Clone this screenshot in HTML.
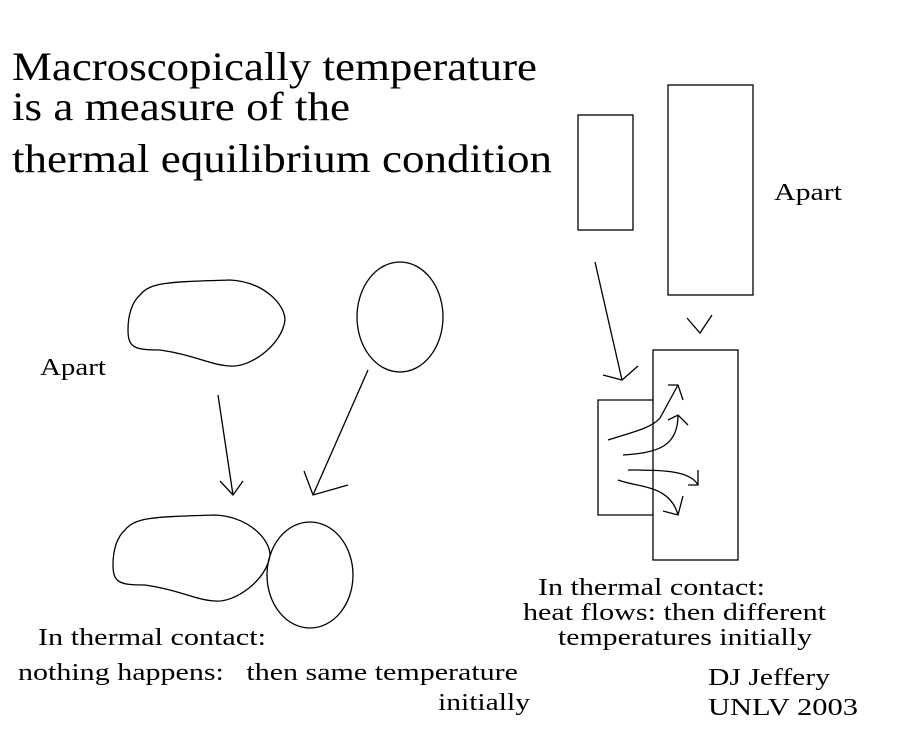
<!DOCTYPE html>
<html><head><style>html,body{margin:0;padding:0;background:#fff}svg{display:block}</style></head><body>
<svg width="922" height="733" viewBox="0 0 922 733" xmlns="http://www.w3.org/2000/svg" font-family="Liberation Serif, serif" fill="#000">
<g font-size="40">
<text x="12" y="80" textLength="525" lengthAdjust="spacingAndGlyphs">Macroscopically temperature</text>
<text x="12" y="120" textLength="338" lengthAdjust="spacingAndGlyphs">is a measure of the</text>
<text x="12" y="172" textLength="540" lengthAdjust="spacingAndGlyphs">thermal equilibrium condition</text>
</g>
<g font-size="24">
<text x="774" y="200" textLength="68" lengthAdjust="spacingAndGlyphs">Apart</text>
<text x="40" y="375" textLength="66" lengthAdjust="spacingAndGlyphs">Apart</text>
<text x="38" y="645" textLength="228" lengthAdjust="spacingAndGlyphs">In thermal contact:</text>
<text x="18" y="680" textLength="500" lengthAdjust="spacingAndGlyphs" xml:space="preserve">nothing happens:   then same temperature</text>
<text x="438" y="710" textLength="92" lengthAdjust="spacingAndGlyphs">initially</text>
<text x="538" y="595" textLength="227" lengthAdjust="spacingAndGlyphs">In thermal contact:</text>
<text x="523" y="620" textLength="303" lengthAdjust="spacingAndGlyphs">heat flows: then different</text>
<text x="558" y="645" textLength="254" lengthAdjust="spacingAndGlyphs">temperatures initially</text>
<text x="708" y="685" textLength="122" lengthAdjust="spacingAndGlyphs">DJ Jeffery</text>
<text x="708" y="715" textLength="150" lengthAdjust="spacingAndGlyphs">UNLV 2003</text>
</g>
<g fill="none" stroke="#000" stroke-width="1.3">
<path id="b" d="M140,295 C150,282 170,282 230,280 C265,282 285,305 285,320 C282,345 250,368 230,366 C210,365 195,355 160,350 C135,350 128,348 128,330 C128,315 132,302 140,295"/>
<path d="M140,295 C150,282 170,282 230,280 C265,282 285,305 285,320 C282,345 250,368 230,366 C210,365 195,355 160,350 C135,350 128,348 128,330 C128,315 132,302 140,295" transform="translate(-15,235)"/>
<ellipse cx="400" cy="317" rx="43" ry="55"/>
<ellipse cx="310" cy="575" rx="43" ry="53"/>
<path d="M218,395 L233,495 M220,481 L233,495 L243,481"/>
<path d="M368,370 L313,495 M304,471 L313,495 L348,485"/>
<rect x="578" y="115" width="55" height="115"/>
<rect x="668" y="85" width="85" height="210"/>
<path d="M595,262 L622,380 M603,375 L622,380 L638,366"/>
<path d="M687,318 L700,333 L712,315"/>
<rect x="653" y="350" width="85" height="210"/>
<path d="M653,400 L598,400 L598,515 L653,515"/>
<path d="M608,440 C630,433 652,428 660,418 L678,385 M668,385 L678,385 L683,400"/>
<path d="M623,455 C660,453 678,445 678,415 M668,420 L678,415 L688,425"/>
<path d="M628,470 C660,470 690,470 698,485 M688,485 L698,485 L698,470"/>
<path d="M618,480 C640,488 670,485 678,515 M663,511 L678,515 L683,496"/>
</g>
</svg>
</body></html>
